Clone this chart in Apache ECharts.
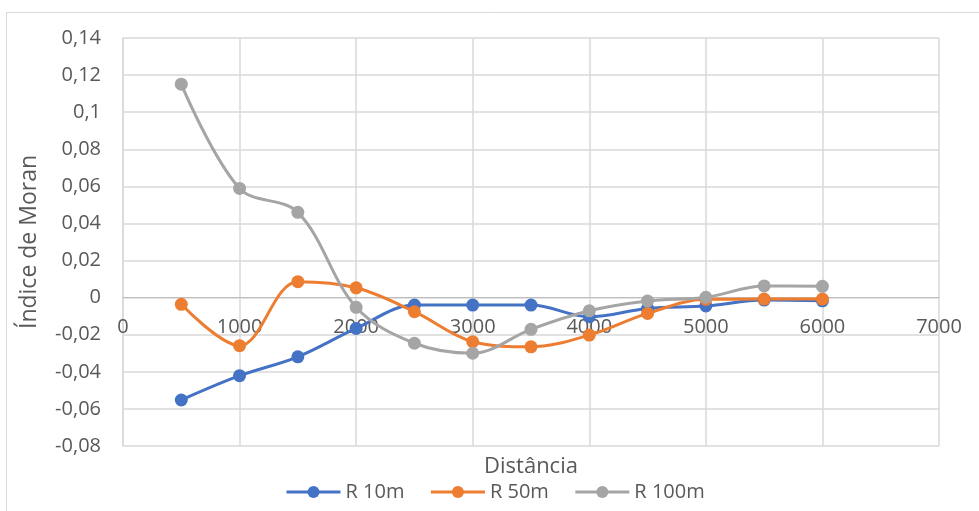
<!DOCTYPE html>
<html>
<head>
<meta charset="utf-8">
<script src="https://cdn.jsdelivr.net/npm/echarts@6/dist/echarts.min.js"></script>
<style>
  html, body { margin: 0; padding: 0; background: #fff; }
  #chart { width: 979px; height: 511px; }
</style>
</head>
<body>
<div id="chart"></div>
<script>
// Distances (m) at which Moran's I was computed
const distances = [500, 1000, 1500, 2000, 2500, 3000, 3500, 4000, 4500, 5000, 5500, 6000];

// Moran's I per neighbourhood radius
const r10m  = [-0.0552, -0.0421, -0.0319, -0.0166, -0.0040, -0.0040, -0.0040, -0.0103, -0.0058, -0.0045, -0.0013, -0.0017];
const r50m  = [-0.0036, -0.0259, 0.0086, 0.0053, -0.0076, -0.0238, -0.0265, -0.0202, -0.0085, -0.0009, -0.0008, -0.0008];
const r100m = [0.1151, 0.0589, 0.0460, -0.0052, -0.0246, -0.0300, -0.0171, -0.0071, -0.0018, 0.0002, 0.0063, 0.0061];

const seriesNames = ['R 10m', 'R 50m', 'R 100m'];
const seriesColors = ['#4472C4', '#ED7D31', '#A5A5A5'];

const xTitle = 'Distância';
const yTitle = 'Índice de Moran';

const pairs = vals => distances.map((d, i) => [d, vals[i]]);
const commaNum = v => String(+v.toFixed(2)).replace('.', ',');

const textColor = '#595959';
const font = '"Open Sans", "Noto Sans", sans-serif';

const chart = echarts.init(document.getElementById('chart'), null, { renderer: 'canvas' });

const makeSeries = (name, vals, color) => ({
  name: name,
  type: 'line',
  data: pairs(vals),
  smooth: 0.35,
  symbol: 'circle',
  symbolSize: 13,
  lineStyle: { color: color, width: 3 },
  itemStyle: { color: color },
  emphasis: { disabled: true }
});

chart.setOption({
  animation: false,
  backgroundColor: '#fff',
  graphic: [{
    type: 'rect',
    shape: { x: 6.5, y: 12.5, width: 1000, height: 600 },
    style: { fill: 'none', stroke: '#d9d9d9', lineWidth: 1 },
    silent: true,
    z: -10
  }, {
    type: 'text',
    x: 531,
    y: 467,
    style: {
      text: xTitle, fill: textColor, fontSize: 22, fontFamily: font,
      textAlign: 'center', textVerticalAlign: 'middle'
    },
    silent: true
  }],
  grid: { left: 123, right: 40, top: 38, bottom: 65, containLabel: false, outerBoundsMode: 'none' },
  legend: {
    data: seriesNames,
    bottom: 4,
    left: 280,
    itemWidth: 54,
    itemHeight: 15,
    itemGap: 25,
    lineStyle: { width: 3 },
    textStyle: { color: textColor, fontSize: 20, fontFamily: font }
  },
  xAxis: {
    type: 'value',
    min: 0,
    max: 7000,
    interval: 1000,
    axisLine: { onZero: false, lineStyle: { color: '#bfbfbf', width: 1 } },
    axisTick: { show: false },
    axisLabel: { color: textColor, fontSize: 20, fontFamily: font, margin: 20, formatter: v => String(v) },
    splitLine: { show: true, lineStyle: { color: '#d9d9d9', width: 1.5 } }
  },
  yAxis: {
    type: 'value',
    min: -0.08,
    max: 0.14,
    interval: 0.02,
    name: yTitle,
    nameLocation: 'middle',
    nameGap: 82,
    nameRotate: 90,
    nameTextStyle: { color: textColor, fontSize: 23, fontFamily: font },
    axisLine: { show: true, onZero: false, lineStyle: { color: '#d9d9d9', width: 1.5 } },
    axisTick: { show: false },
    axisLabel: { color: textColor, fontSize: 20, fontFamily: font, margin: 22, formatter: commaNum },
    splitLine: { show: true, lineStyle: { color: '#d9d9d9', width: 1.5 } }
  },
  series: [
    makeSeries(seriesNames[0], r10m, seriesColors[0]),
    makeSeries(seriesNames[1], r50m, seriesColors[1]),
    makeSeries(seriesNames[2], r100m, seriesColors[2])
  ]
});

// Place the distance axis (line and labels) on the zero level of the index axis
const yZero = chart.convertToPixel({ yAxisIndex: 0 }, 0);
const yBottom = chart.convertToPixel({ yAxisIndex: 0 }, -0.08);
chart.setOption({ xAxis: { offset: yZero - yBottom } });
</script>
</body>
</html>
